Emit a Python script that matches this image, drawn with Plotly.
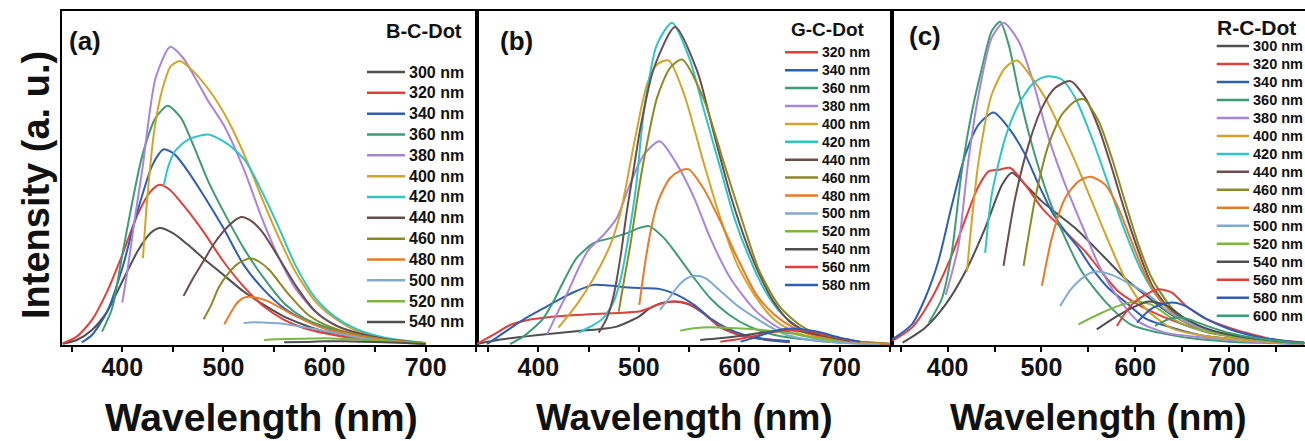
import plotly.graph_objects as go

FONT = "Liberation Sans, Arial, sans-serif"

# Line colour for every excitation wavelength
COLORS = {
    "300 nm": "#4f4f4f", "320 nm": "#e0403c", "340 nm": "#2d5fb5",
    "360 nm": "#3e9c74", "380 nm": "#a985d8", "400 nm": "#d3a42a",
    "420 nm": "#2fc4c6", "440 nm": "#6c4c4c", "460 nm": "#8c8a22",
    "480 nm": "#e97a26", "500 nm": "#80aad2", "520 nm": "#7cb745",
    "540 nm": "#4f4f4f", "560 nm": "#e0403c", "580 nm": "#2d5fb5",
    "600 nm": "#3e9c74",
}

# ---------------- B-C-Dot emission spectra ----------------
bcd_exc = ["300 nm", "320 nm", "340 nm", "360 nm", "380 nm", "400 nm", "420 nm",
           "440 nm", "460 nm", "480 nm", "500 nm", "520 nm", "540 nm"]
bcd_wl = [
    [341, 355, 370, 385, 400, 415, 428, 437, 450, 465, 480, 500, 520, 540, 560, 580, 600, 625, 650, 675, 700],
    [341, 355, 370, 385, 400, 415, 428, 437, 447, 460, 480, 500, 520, 540, 560, 580, 600, 625, 650, 675, 700],
    [360, 370, 385, 400, 415, 430, 441, 452, 465, 480, 500, 520, 540, 560, 580, 600, 625, 650, 675, 700],
    [380, 390, 400, 410, 420, 433, 445, 458, 470, 485, 500, 520, 540, 560, 580, 600, 630, 660, 700],
    [400, 405, 412, 420, 433, 447.5, 460, 472, 485, 500, 521, 538, 555, 571, 591, 610, 630, 660, 700],
    [420.4, 425, 432, 440, 448, 457, 470, 489, 505, 522, 538, 555, 571, 591, 610, 630, 660, 700],
    [441, 445, 452, 465, 485, 505, 522, 538, 555, 571, 591, 610, 630, 660, 700],
    [460.6, 470, 480, 490, 500, 510, 518, 528, 538, 555, 571, 591, 610, 630, 660, 700],
    [480.4, 488, 495, 505, 515, 526.6, 535, 545, 565, 584, 605, 630, 660, 700],
    [500.9, 506, 512, 518, 523, 535, 545, 571, 597, 627, 660, 700],
    [520, 530, 540, 555, 570, 590, 610, 640, 670, 700],
    [540, 560, 580, 600, 620, 640, 670, 700],
    [560, 580, 600, 620, 650, 680, 700],
]
bcd_int = [
    [0.4, 1.5, 4.5, 10, 19, 28, 33.5, 35, 33.5, 30, 26, 21, 16, 12, 8.5, 6, 4, 2.6, 1.6, 0.9, 0.4],
    [0.5, 2.5, 7.5, 16, 27, 39, 46, 48, 46.5, 42, 34, 25, 17.5, 11.5, 7.5, 5, 3.5, 2.2, 1.4, 0.8, 0.4],
    [0.8, 3, 10, 23, 40, 54, 58.6, 57, 52, 45, 35, 24, 16.5, 11, 7.5, 5, 3.2, 1.9, 1.1, 0.5],
    [4, 11, 27, 43, 57, 68, 71.6, 68, 60, 49, 40, 29, 20, 12.5, 8, 5.5, 3, 1.7, 0.5],
    [12.7, 22, 37, 53, 80, 89.3, 86, 80, 73, 66, 52, 38, 26, 17, 10, 6, 3.5, 1.8, 0.5],
    [26, 45, 65, 77, 83.5, 85, 82, 75, 67, 56, 44, 32, 22, 13, 8, 4.5, 2, 0.6],
    [47.6, 53, 58, 61.5, 63, 60, 55, 46, 35, 24, 14, 8.5, 5, 2.2, 0.6],
    [14.7, 20, 25, 30, 34, 37, 38.3, 37, 34, 26, 18, 10, 6, 3.8, 1.8, 0.5],
    [7.7, 12, 17, 21.5, 24.5, 26, 25, 22.6, 15, 9, 5.5, 3.2, 1.6, 0.5],
    [6.2, 9, 12, 13.8, 14.4, 14, 13, 8.7, 5.2, 3, 1.5, 0.4],
    [6.6, 6.8, 6.7, 6.5, 5.8, 4.8, 3.6, 1.9, 1, 0.4],
    [1.5, 1.8, 1.9, 2, 1.8, 1.5, 1, 0.5],
    [0.8, 0.9, 1.1, 1.1, 0.9, 0.6, 0.3],
]
bcd_in_legend = [True] * 13

# ---------------- G-C-Dot emission spectra ----------------
gcd_exc = ["300 nm", "320 nm", "340 nm", "360 nm", "380 nm", "400 nm", "420 nm", "440 nm",
           "460 nm", "480 nm", "500 nm", "520 nm", "540 nm", "560 nm", "580 nm"]
gcd_wl = [
    [340, 360, 380, 400, 420, 440, 460, 478, 490, 500, 511, 522, 535, 548, 564, 580, 600, 625, 650],
    [339, 355, 372, 390, 410, 430, 455, 480, 500, 510, 520, 535, 545, 555, 565, 581, 600, 625, 650],
    [349, 360, 372, 390, 405, 420, 435, 455, 470, 490, 505, 520, 538, 555, 571, 588, 605, 625, 650],
    [372, 385, 395, 405, 415, 425, 438, 455, 472, 488, 500, 510, 525, 538, 555, 571, 590, 610, 635, 670, 710, 750],
    [408.7, 418, 428, 440, 450, 465, 478, 491, 505, 520.6, 538, 555, 571, 591, 617, 640, 670, 710, 750],
    [420, 438, 455, 471.6, 482, 495, 508, 518, 529.6, 545, 564, 581, 598, 617, 635, 655, 680, 720, 750],
    [440, 455, 465, 475, 482, 490, 497, 505, 518, 533, 550, 565, 580, 595, 610, 625, 640, 660, 690, 740],
    [460, 468, 475, 482, 488, 495, 501.5, 515, 536, 558, 574, 591, 607.6, 620, 635, 650, 670, 700, 750],
    [480, 485, 491.5, 498, 504.7, 518, 531, 543, 564, 584, 604, 620, 640, 660, 680, 710, 750],
    [500.4, 504, 508, 513, 518, 525, 531, 540, 549.5, 564, 581, 598, 617, 635, 655, 680, 720, 750],
    [521, 530, 540, 548, 556, 566, 580, 597, 614, 630, 647, 670, 700, 740],
    [541, 555, 571, 590, 610, 630, 650, 675, 700],
    [561, 580, 600, 620, 640, 655, 670, 690, 710],
    [581, 600, 620, 640, 655, 670, 690, 715],
    [601, 615, 630, 645, 660, 680, 700, 720],
]
gcd_int = [
    [0.4, 1.5, 2.3, 3, 3.6, 4.2, 4.7, 5.5, 7, 8.5, 11, 12.5, 13, 12.3, 9.5, 5.5, 3, 1.6, 0.8],
    [0.3, 3, 6, 7.5, 8.3, 8.8, 9.3, 9.6, 10, 11, 12.2, 13, 12.7, 11.5, 9.3, 5.5, 3, 1.8, 1],
    [0.3, 2.5, 5, 8.5, 11, 13.5, 15.8, 18, 17.8, 17.2, 17, 16.8, 15, 12, 8, 5, 3, 1.8, 1.2],
    [0.3, 2.5, 5, 8, 13, 19, 26, 30.5, 32, 33.5, 35, 35.6, 32, 27, 20, 14, 9, 5.5, 3, 1.5, 0.6, 0.3],
    [3.2, 9, 15, 23, 28.5, 33, 38, 48, 57, 61, 54, 44, 32, 20, 10, 5, 2.3, 0.8, 0.3],
    [5.2, 12, 20, 30, 40, 60, 78, 84, 85.2, 75, 55, 38, 24, 14, 7.5, 4, 1.8, 0.5, 0.3],
    [3.7, 6, 8.2, 13, 20, 33, 47, 70, 90, 96.5, 86, 70, 54, 38, 26, 16.5, 10, 5, 1.8, 0.4],
    [3.7, 8, 15, 27, 40, 53, 65, 83, 95.2, 82, 64, 45, 30, 21, 12.5, 7, 3.5, 1.5, 0.3],
    [10, 19, 30, 43, 55, 74, 83, 85.5, 74, 55, 36, 22, 11.5, 6, 3, 1.3, 0.4],
    [12, 20, 28, 36, 42, 47, 50, 52, 52.6, 47, 37, 26, 15, 9, 5, 2.3, 0.6, 0.3],
    [10.5, 14, 18, 20, 20.7, 20, 16.5, 12, 8.5, 5.5, 3, 1.6, 0.7, 0.3],
    [4.3, 5, 5.3, 5.1, 4.8, 4.3, 3.5, 2.2, 1.2],
    [1.5, 2, 2.7, 3.6, 4.3, 4.4, 3.6, 2.4, 1.3],
    [1, 1.8, 3, 4.2, 4.6, 4, 2.6, 1.2],
    [1, 2.2, 3.8, 4.8, 4.8, 3.8, 2.2, 1],
]
gcd_in_legend = [False] + [True] * 14

# ---------------- R-C-Dot emission spectra ----------------
rcd_exc = ["300 nm", "320 nm", "340 nm", "360 nm", "380 nm", "400 nm", "420 nm", "440 nm",
           "460 nm", "480 nm", "500 nm", "520 nm", "540 nm", "560 nm", "580 nm", "600 nm"]
rcd_wl = [
    [352, 376, 397.5, 419, 440, 458, 468.5, 482.7, 500.5, 518, 536, 554, 571.5, 589, 610.6, 639, 674.5, 710, 750, 780],
    [341, 362, 383, 404.6, 422, 432, 443.6, 455, 466.8, 482.7, 500.5, 518, 532.4, 546.7, 561, 582, 603.5, 625, 653, 681.6, 710, 750, 780],
    [341, 362, 376, 390, 404.6, 418.8, 433, 449, 465, 482.7, 497, 511, 525.3, 539.5, 553.7, 571.5, 589, 610.6, 639, 674.5, 710, 750, 780],
    [380, 394, 404.6, 415, 426, 436.6, 447, 456, 465, 475.6, 489.8, 507.6, 525.3, 543, 568, 596, 625, 660, 700, 740, 780],
    [398, 404, 411.7, 422, 433, 447, 459.7, 475.6, 489.8, 507.6, 525.3, 543, 561, 582, 603.5, 632, 674.5, 710, 750, 780],
    [420.6, 426, 433, 447, 461.4, 473.9, 489.8, 504, 518, 536, 553.7, 571.5, 589, 610.6, 639, 674.5, 710, 750, 780],
    [440, 447, 461.4, 475.6, 489.8, 500, 507.6, 521.8, 536, 553.7, 571.5, 589, 607, 624.8, 649.7, 678, 710, 750, 780],
    [459.6, 472, 486.3, 500.5, 514.7, 530.7, 546.7, 561, 575, 589, 603.5, 617.7, 639, 660, 690, 720, 750, 780],
    [481, 493.4, 507.6, 521.8, 536, 545, 561, 575, 589, 603.5, 617.7, 639, 660, 690, 720, 750, 780],
    [500.5, 511, 525.3, 539.5, 552, 568, 582, 596, 610.6, 624.8, 646, 667, 700, 740, 780],
    [520, 532.4, 546.7, 557.3, 575, 596, 614, 635.4, 660, 690, 720, 750, 780],
    [539.5, 561, 582, 600, 617.7, 639, 660, 690, 720, 750, 780],
    [559, 575, 589, 603.5, 614, 632, 653, 678, 710, 750, 780],
    [580.4, 596, 610.6, 624.8, 639, 653, 674.5, 700, 720, 750, 780],
    [601.7, 617.7, 639, 653, 674.5, 700, 730, 760, 780],
    [621, 635.4, 649.7, 667, 681.6, 700, 730, 760, 780],
]
rcd_int = [
    [0.7, 5.2, 12, 22, 35, 48, 51.6, 48, 43, 39, 35, 30, 25, 20, 15, 9, 4.2, 2.5, 1.2, 0.6],
    [1.2, 5.2, 14, 27, 40, 47, 52, 52.5, 53, 48, 41, 36, 32, 28, 23, 16, 12, 9, 6, 3.5, 2.3, 1.2, 0.6],
    [1.7, 6.2, 14, 25, 42, 57, 66, 69.6, 65, 57, 48, 40, 34, 29, 23, 17, 13, 8, 5.2, 2.7, 1.7, 0.9, 0.5],
    [6.7, 14, 28, 52, 70, 83, 94, 96.8, 90, 76, 60, 44, 32, 22, 13, 6, 3.7, 2, 1, 0.6, 0.3],
    [15, 21, 30, 55, 75, 92, 96.5, 91, 80, 62, 48, 36, 24, 14, 7, 3.7, 2.2, 1.3, 0.6, 0.3],
    [22, 38, 55, 75, 83, 85.2, 80, 74, 66, 55, 43, 31, 20, 11, 5, 2.7, 1.6, 0.8, 0.4],
    [27.6, 45, 62, 72, 78, 80, 80.5, 79.5, 74, 62, 48, 34, 22, 14, 8, 4.2, 2.3, 1.1, 0.5],
    [23.7, 44, 60, 71, 77, 79, 74, 65, 53, 40, 28, 18, 10, 6.2, 3.4, 2, 1.1, 0.5],
    [23.7, 44, 60, 69, 73, 73.6, 67, 56, 43, 30, 20, 11, 6.2, 3.4, 2, 1.1, 0.5],
    [17.7, 32, 44, 49, 50.4, 48, 41, 31, 21, 14, 8, 5.2, 2.6, 1.3, 0.5],
    [11.7, 17, 20.7, 22, 21, 18, 15, 10, 6.2, 3.5, 2, 1.1, 0.5],
    [6.2, 9.2, 11.7, 13, 12, 8, 5.2, 3.2, 2, 1.1, 0.5],
    [4.7, 7.7, 10, 12, 13, 12, 8, 4.7, 2.6, 1.2, 0.5],
    [5.7, 12, 15, 16.7, 15.7, 12, 8, 5.2, 3.5, 1.5, 0.8],
    [6.7, 11, 12.7, 11.7, 8, 4.8, 2.5, 1.2, 0.6],
    [5.7, 7.7, 8.2, 6.7, 5.2, 3.6, 2, 1, 0.5],
]
rcd_in_legend = [True] * 16

# Axis settings
x_ranges = [[340.4, 750.7], [339.0, 751.7], [340.7, 780.9]]
y_range = [0, 100]
tick_vals = [350, 400, 450, 500, 550, 600, 650, 700, 750]
tick_text = ["", "400", "", "500", "", "600", "", "700", ""]

# ---------------- page geometry (pixels) ----------------
W, H = 1305, 441
ML, MR, MT, MB = 62, 0, 11, 96
PW, PH = W - ML - MR, H - MT - MB


def px(x):
    return (x - ML) / PW


def py(y):
    return (H - MB - y) / PH


panels = [
    dict(exc=bcd_exc, wl=bcd_wl, iv=bcd_int, show=bcd_in_legend, dom=[0, px(477)],
         name="B-C-Dot", name_xy=(464, 31), name_anchor="right", name_size=20,
         tag="(a)", tag_xy=(85, 41), leg_y0=72, leg_dy=20.83, leg_line=(367, 405),
         leg_tx=407, leg_size=16, title_shift=-8, title_size=39),
    dict(exc=gcd_exc, wl=gcd_wl, iv=gcd_int, show=gcd_in_legend, dom=[px(477), px(892)],
         name="G-C-Dot", name_xy=(827, 30), name_anchor="center", name_size=19,
         tag="(b)", tag_xy=(516, 41), leg_y0=52.3, leg_dy=17.9, leg_line=(785, 818),
         leg_tx=820, leg_size=14, title_shift=0, title_size=37),
    dict(exc=rcd_exc, wl=rcd_wl, iv=rcd_int, show=rcd_in_legend, dom=[px(892), 1.0],
         name="R-C-Dot", name_xy=(1256, 27), name_anchor="center", name_size=21,
         tag="(c)", tag_xy=(925, 36), leg_y0=46, leg_dy=17.98, leg_line=(1216.7, 1249),
         leg_tx=1251, leg_size=14.5, title_shift=0, title_size=37),
]

fig = go.Figure()
shapes, annotations = [], []
layout = {}

for k, p in enumerate(panels):
    sfx = "" if k == 0 else str(k + 1)
    xa, ya = "x" + sfx, "y" + sfx
    for lab, wl, iv in zip(p["exc"], p["wl"], p["iv"]):
        fig.add_trace(go.Scatter(
            x=wl, y=iv, mode="lines", name=lab, showlegend=False,
            line=dict(color=COLORS[lab], width=2, shape="spline", smoothing=0.7),
            xaxis=xa, yaxis=ya, cliponaxis=True,
        ))

    layout["xaxis" + sfx] = dict(
        domain=p["dom"], anchor=ya, range=x_ranges[k],
        tickmode="array", tickvals=tick_vals, ticktext=tick_text,
        ticks="outside", ticklen=5, tickwidth=2, tickcolor="black",
        ticklabelstandoff=-6,
        tickfont=dict(family=FONT, size=25, color="#111111", weight="bold"),
        showline=True, linecolor="black", linewidth=2, mirror=True,
        showgrid=False, zeroline=False,
    )
    layout["yaxis" + sfx] = dict(
        domain=[0, 1], anchor=xa, range=y_range,
        showticklabels=False, ticks="", showgrid=False, zeroline=False,
        showline=True, linecolor="black", linewidth=2, mirror=(k < 2),
    )

    # panel tag and sample name
    annotations.append(dict(
        text="<b>%s</b>" % p["tag"], x=px(p["tag_xy"][0]), y=py(p["tag_xy"][1]),
        xref="paper", yref="paper", xanchor="center", yanchor="middle", showarrow=False,
        font=dict(family=FONT, size=26, color="#111111")))
    annotations.append(dict(
        text="<b>%s</b>" % p["name"], x=px(p["name_xy"][0]), y=py(p["name_xy"][1]),
        xref="paper", yref="paper", xanchor=p["name_anchor"], yanchor="middle", showarrow=False,
        font=dict(family=FONT, size=p["name_size"], color="#111111")))

    # legend: short line sample + label per excitation wavelength
    row = 0
    for lab, shown in zip(p["exc"], p["show"]):
        if not shown:
            continue
        yy = py(p["leg_y0"] + row * p["leg_dy"])
        shapes.append(dict(type="line", xref="paper", yref="paper",
                           x0=px(p["leg_line"][0]), x1=px(p["leg_line"][1]), y0=yy, y1=yy,
                           line=dict(color=COLORS[lab], width=2.5)))
        annotations.append(dict(
            text="<b>%s</b>" % lab, x=px(p["leg_tx"]), y=yy, xref="paper", yref="paper",
            xanchor="left", yanchor="middle", showarrow=False,
            font=dict(family=FONT, size=p["leg_size"], color="#111111")))
        row += 1

    # x-axis title
    annotations.append(dict(
        text="<b>Wavelength (nm)</b>", x=0.5, xref=xa + " domain", xshift=p["title_shift"],
        y=py(418), yref="paper", xanchor="center", yanchor="middle", showarrow=False,
        font=dict(family=FONT, size=p["title_size"], color="#111111")))

# shared y-axis title
annotations.append(dict(
    text="<b>Intensity (a. u.)</b>", x=px(36), y=py(185), xref="paper", yref="paper",
    xanchor="center", yanchor="middle", textangle=-90, showarrow=False,
    font=dict(family=FONT, size=38, color="#111111")))

fig.update_layout(
    width=W, height=H, margin=dict(l=ML, r=MR, t=MT, b=MB, pad=0),
    paper_bgcolor="white", plot_bgcolor="white", showlegend=False,
    shapes=shapes, annotations=annotations, **layout,
)

fig.write_html("out.html")
